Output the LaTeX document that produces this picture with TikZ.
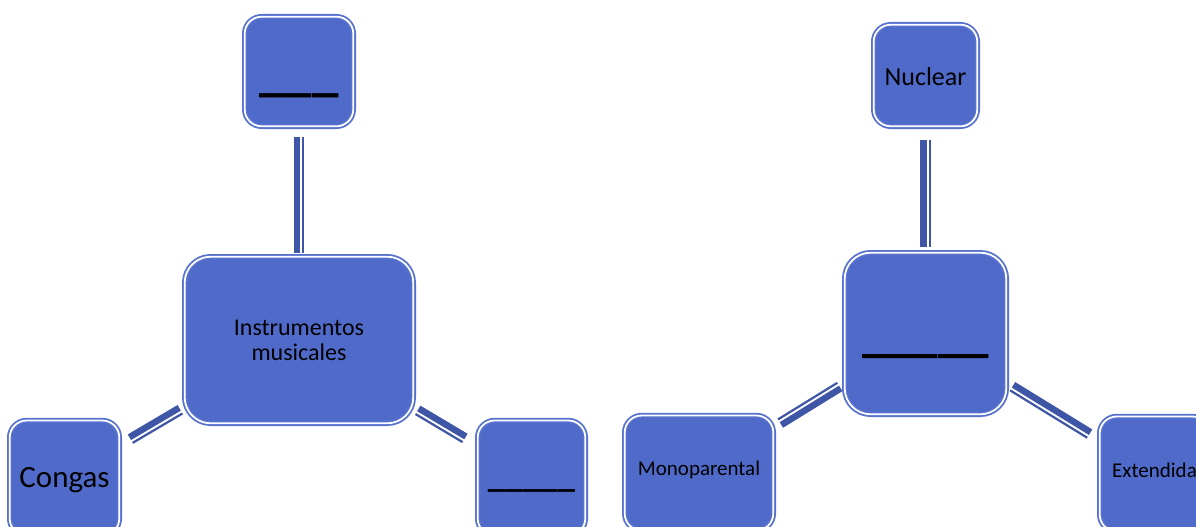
\documentclass[tikz,border=0pt]{standalone}
\usepackage{fontspec}
\setmainfont{Carlito}
\definecolor{boxfill}{RGB}{79,106,200}
\definecolor{boxline}{RGB}{86,113,206}
\definecolor{connblue}{RGB}{63,85,165}
\tikzset{
  boxnode/.style={rectangle, fill=boxfill, draw=boxline, double=white,
    line width=1.8pt, double distance=1.8pt, inner sep=0pt, text=black,
    rounded corners=17pt},
  bigbox/.style={boxnode, rounded corners=26pt},
  cthick/.style={draw=connblue, line width=6.5pt},
  cthin/.style={draw=connblue, line width=2.2pt},
}
\begin{document}
\begin{tikzpicture}[x=1pt,y=-1pt]
\useasboundingbox (0,0) rectangle (1196,527);

% left diagram
\node[boxnode, minimum width=108.6pt, minimum height=109.6pt,
      font=\fontsize{53}{64}\selectfont\bfseries, text height=37.8pt, text depth=0pt]
      (A) at (299,71.5) {\_\_\_};
\node[bigbox, minimum width=228.6pt, minimum height=166.6pt,
      font=\fontsize{24}{25}\selectfont, align=center]
      (B) at (299,340) {Instrumentos\\musicales};
\node[boxnode, minimum width=109.6pt, minimum height=115pt,
      font=\fontsize{31}{37}\selectfont, text height=18.6pt, text depth=0pt]
      (C) at (64.5,478) {Congas};
\node[boxnode, minimum width=107.6pt, minimum height=115pt,
      font=\fontsize{35}{42}\selectfont\bfseries, text height=19.8pt, text depth=0pt]
      (D) at (531.5,478) {\_\_\_\_\_};

% right diagram
\node[boxnode, minimum width=103.6pt, minimum height=101.6pt,
      font=\fontsize{26}{31}\selectfont, text height=20.7pt, text depth=0pt]
      (E) at (925.5,75.5) {Nuclear};
\node[bigbox, minimum width=161.6pt, minimum height=161.6pt,
      font=\fontsize{51}{61}\selectfont\bfseries, text height=36.6pt, text depth=0pt]
      (F) at (925.5,333.5) {\_\_\_\_\_};
\node[boxnode, minimum width=148.6pt, minimum height=115pt,
      font=\fontsize{21}{25}\selectfont, text height=5pt, text depth=0pt]
      (G) at (699,473) {Monoparental};
\node[boxnode, minimum width=109.6pt, minimum height=115pt,
      font=\fontsize{21}{25}\selectfont, text height=6pt, text depth=0pt]
      (H) at (1154.5,474) {Extendida};

% connectors (thick-thin compound lines)
\draw[cthick, transform canvas={shift={(-2.25,0)}}, shorten <=10pt, shorten >=3pt] (A) -- (B);
\draw[cthin,  transform canvas={shift={(4.25,0)}},  shorten <=10pt, shorten >=3pt] (A) -- (B);

\draw[cthick, transform canvas={shift={(-1.13,-1.95)}}, shorten <=4pt, shorten >=12pt] (B) -- (C);
\draw[cthin,  transform canvas={shift={(2.13,3.68)}},   shorten <=4pt, shorten >=12pt] (B) -- (C);

\draw[cthick, transform canvas={shift={(1.13,-1.94)}}, shorten <=4pt, shorten >=14pt] (B) -- (D);
\draw[cthin,  transform canvas={shift={(-2.14,3.67)}}, shorten <=4pt, shorten >=14pt] (B) -- (D);

\draw[cthick, transform canvas={shift={(-2.25,0)}}, shorten <=13pt, shorten >=4.5pt] (E) -- (F);
\draw[cthin,  transform canvas={shift={(4.25,0)}},  shorten <=13pt, shorten >=4.5pt] (E) -- (F);

\draw[cthick, transform canvas={shift={(1.17,1.93)}},   shorten <=5pt, shorten >=7pt] (F) -- (G);
\draw[cthin,  transform canvas={shift={(-2.2,-3.64)}},  shorten <=5pt, shorten >=7pt] (F) -- (G);

\draw[cthick, transform canvas={shift={(1.16,-1.93)}}, shorten <=6pt, shorten >=11pt] (F) -- (H);
\draw[cthin,  transform canvas={shift={(-2.19,3.64)}}, shorten <=6pt, shorten >=11pt] (F) -- (H);
\end{tikzpicture}
\end{document}
